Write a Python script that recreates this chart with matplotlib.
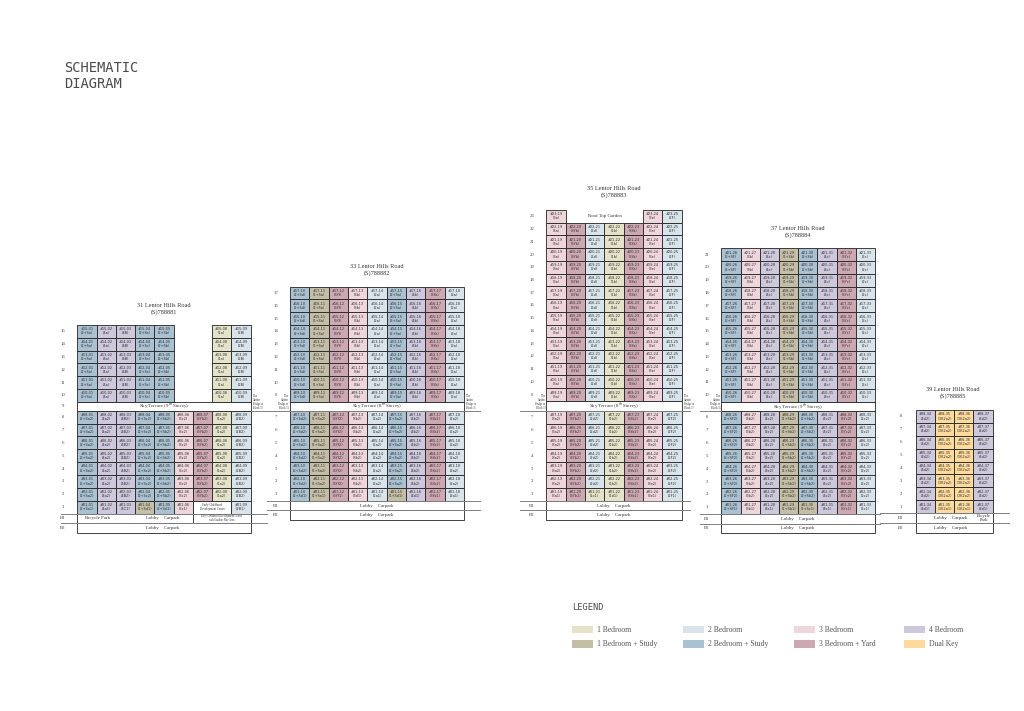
"""
schematic diagram of the units: 5 blocks on Lentor Hills Road
"""
import matplotlib
matplotlib.use('Agg')
import matplotlib.pyplot as plt

# ==================================================================== data:
unit_colors = {'1': '#e4e2c9', '1S': '#c4bea6', '2': '#d8e4ea', '2S': '#a9c1d1',
               '3': '#eed6dc', '3Y': '#cda8b3', '4': '#cdc8dc', 'DK': '#fedb9d'}

legend_labels = ['1 Bedroom', '1 Bedroom + Study', '2 Bedroom', '2 Bedroom + Study',
                 '3 Bedroom', '3 Bedroom + Yard', '4 Bedroom', 'Dual Key']
legend_types = ['1', '1S', '2', '2S', '3', '3Y', '4', 'DK']

# block 31
b31_stacks = ['01', '02', '03', '04', '05', '06', '07', '08', '09']
b31_upper = ['2S', '4', '4', '2S', '2S', None, None, '1', '2']
b31_lower = ['2S', '4', '4', '2S', '2S', '3', '3Y', '1', '2']
b31_ground = ['2S', '4', '4', '1S', '2S', '3', None, None, '2']
b31_upper_code = ['2+Sa', '4a', '4B', '2+Sc', '2+Sb', '', '', '1a', '2B']
b31_lower_code = ['2+Sa2', '4a2', '4B2', '2+Sc2', '2+Sb2', '3c2', '3Yb2', '1a2', '2B2']
b31_ground_code = ['2+Sa1', '4a1', '4C1', '1+Sd1', '2+Sd1', '3c1', '', '', '2B1']
b31_floors_upper = [15, 14, 13, 12, 11, 10]
b31_floors_lower = [8, 7, 6, 5, 4, 3, 2]

# block 33
b33_stacks = ['10', '11', '12', '13', '14', '15', '16', '17', '18']
b33_upper = ['2S', '1S', '3Y', '3', '2', '2S', '4', '3Y', '2']
b33_lower = ['2S', '1S', '3Y', '3', '2', '2S', '4', '3Y', '2']
b33_ground = ['2S', '1S', '3Y', '3', '2', '1S', '4', '3Y', '2']
b33_upper_code = ['2+Sd', '1+Sa', '3Yf', '3b', '2a', '2+Sa', '4b', '3Ya', '2a']
b33_lower_code = ['2+Sd2', '1+Sa2', '3Yf2', '3b2', '2a2', '2+Sa2', '4b2', '3Ya2', '2a2']
b33_ground_code = ['2+Sd1', '1+Sa1', '3Yf1', '3d1', '2a1', '1+Sd1', '4d1', '3Ya1', '2a1']
b33_floors_upper = [17, 16, 15, 14, 13, 12, 11, 10, 9]
b33_floors_lower = [7, 6, 5, 4, 3, 2]

# block 35
b35_stacks = ['19', '20', '21', '22', '23', '24', '25']
b35_top = ['3', None, None, None, None, '3', '2']
b35_upper = ['3', '3Y', '2', '1', '3Y', '3', '2']
b35_lower = ['3', '3Y', '2', '1', '3Y', '3', '2']
b35_ground = ['3', '3Y', '1', '1', '3Y', '3', '2']
b35_upper_code = ['3a', '3Yb', '2d', '1b', '3Ya', '3e', '2F']
b35_lower_code = ['3a2', '3Yb2', '2d2', '1b2', '3Ya2', '3e2', '2F2']
b35_ground_code = ['3a1', '3Yb1', '1c1', '1d1', '3Ya1', '3e1', '2F1']
b35_floors_upper = [22, 21, 20, 19, 18, 17, 16, 15, 14, 13, 12, 11, 10, 9]
b35_floors_lower = [7, 6, 5, 4, 3, 2]

# block 37
b37_stacks = ['26', '27', '28', '29', '30', '31', '32', '33']
b37_upper = ['2S', '3', '4', '1S', '2S', '4', '3Y', '2']
b37_lower = ['2S', '3', '4', '1S', '2S', '4', '3Y', '2']
b37_ground = ['2S', '3', '4', '1S', '1S', '4', '3Y', '2']
b37_upper_code = ['2+SF', '3b', '4c', '1+Sb', '2+Sb', '4c', '3Yc', '2c']
b37_lower_code = ['2+SF2', '3b2', '4c2', '1+Sb2', '2+Sb2', '4c2', '3Yc2', '2c2']
b37_ground_code = ['2+SF1', '3b1', '4c1', '1+Sb1', '1+Sc1', '4c1', '3Yc1', '2c1']
b37_floors_upper = [21, 20, 19, 18, 17, 16, 15, 14, 13, 12, 11, 10]
b37_floors_lower = [8, 7, 6, 5, 4, 3, 2]

# block 39
b39_stacks = ['34', '35', '36', '37']
b39_lower = ['4', 'DK', 'DK', '4']
b39_lower_code = ['4d2', 'DK2a2', 'DK2a2', '4d2']
b39_ground_code = ['4d1', 'DK2a1', 'DK2a1', '4d1']
b39_floors_lower = [8, 7, 6, 5, 4, 3, 2]

# ==================================================================== plot:
SERIF = 'Liberation Serif'
SANS = 'DejaVu Sans'
EDGE = '#222222'
GREY = '#808080'
LOBBY = 3.5

fig = plt.figure(figsize=(10.24, 7.11), dpi=100, facecolor='white')
ax = fig.add_axes([0, 0, 1, 1])
ax.set_xlim(0, 1024)
ax.set_ylim(711, 0)
ax.axis('off')


def draw_row(x0, col_w, top, h, floor, stacks, types, codes, label_x, label=True):
    # one storey of a block, empty cells are None
    for i, (stack, kind, code) in enumerate(zip(stacks, types, codes)):
        if kind is None:
            continue
        ax.bar(x0 + i * col_w, h, width=col_w, bottom=top, align='edge',
               color=unit_colors[kind], edgecolor=EDGE, linewidth=0.6)
        ax.text(x0 + (i + 0.5) * col_w, top + h / 2, f'#{floor:02d}-{stack}\n({code})',
                ha='center', va='center', fontsize=2.5, family=SANS,
                color='#2f2f2f', linespacing=1.05)
    if label:
        ax.text(label_x, top + h / 2, str(floor), ha='center', va='center',
                fontsize=3.4, family=SERIF, color='#444444')


def draw_box(x0, x1, top, bottom, text, text_x=None, size=LOBBY):
    ax.bar(x0, bottom - top, width=x1 - x0, bottom=top, align='edge',
           color='white', edgecolor=EDGE, linewidth=0.6)
    if text:
        ax.text((x0 + x1) / 2 if text_x is None else text_x, (top + bottom) / 2, text,
                ha='center', va='center', fontsize=size, family=SERIF, color='#333333')


def draw_title(x, y, text):
    ax.text(x, y, text, ha='center', va='center', fontsize=4.5, family=SERIF,
            color='#333333', linespacing=1.15)


def draw_lines(y, x0, x1):
    ax.plot([x0, x1], [y, y], color=GREY, linewidth=0.7, zorder=1)


def draw_bridge(x, y, text, ha):
    ax.text(x, y, text, ha=ha, va='center', fontsize=1.9, family=SERIF,
            color='#333333', linespacing=1.1)


def draw_floor_label(x, y, text):
    ax.text(x, y, text, ha='center', va='center', fontsize=3.4, family=SERIF, color='#444444')


def draw_block(x0, col_w, top, h_up, sky_top, sky_bottom, h_low, stacks, floors_up, upper,
               up_code, floors_low, lower, low_code, ground, ground_code, label_x):
    y = top
    for f in floors_up:
        draw_row(x0, col_w, y, h_up, f, stacks, upper, up_code, label_x)
        y += h_up
    y = sky_bottom
    for f in floors_low:
        draw_row(x0, col_w, y, h_low, f, stacks, lower, low_code, label_x)
        y += h_low
    draw_row(x0, col_w, y, h_low, 1, stacks, ground, ground_code, label_x)
    return y + h_low


# ---------------------------------------------------------- title and legend
ax.text(64, 68, 'SCHEMATIC', fontsize=9.9, family='DejaVu Sans Mono', color='#4a4a4a', va='center')
ax.text(64, 84, 'DIAGRAM', fontsize=9.9, family='DejaVu Sans Mono', color='#4a4a4a', va='center')
ax.text(572, 608, 'LEGEND', fontsize=6.3, family='DejaVu Sans Mono', color='#4a4a4a', va='center')

for i, (name, kind) in enumerate(zip(legend_labels, legend_types)):
    lx = [572, 683.3, 794.3, 904][i // 2]
    ly = 625.7 + (i % 2) * 14.7
    ax.bar(lx, 7.6, width=20.5, bottom=ly, align='edge', color=unit_colors[kind], linewidth=0)
    ax.text(lx + 25, ly + 3.8, name, fontsize=5.5, family=SERIF, color='#555555', va='center')

# ---------------------------------------------------------- block 31
x0, w = 77.3, 19.26
bottom = draw_block(x0, w, 325, 12.78, 401.7, 410.7, 12.86, b31_stacks, b31_floors_upper, b31_upper,
                    b31_upper_code, b31_floors_lower, b31_lower, b31_lower_code,
                    b31_ground, b31_ground_code, 63)
draw_title(164, 309, '31 Lentor Hills Road\n(S)788881')
draw_box(x0, x0 + 9 * w, 401.7, 410.7, 'Sky Terrace (9$^{th}$ Storey)')
draw_floor_label(63, 406.2, '9')
draw_box(x0 + 6 * w, x0 + 8 * w, bottom - 12.86, bottom, 'Early Childhood\nDevelopment Centre', size=2.2)
draw_box(x0, x0 + 9 * w, bottom, bottom + 9, '')
ax.text(97, bottom + 4.5, 'Bicycle Park', ha='center', va='center', fontsize=LOBBY, family=SERIF, color='#333333')
ax.text(163, bottom + 4.5, 'Lobby    Carpark', ha='center', va='center', fontsize=LOBBY, family=SERIF, color='#333333')
draw_box(x0 + 6 * w, x0 + 9 * w, bottom, bottom + 9,
         'Early Childhood Development Centre\nwith Outdoor Play Area', size=1.9)
draw_box(x0, x0 + 9 * w, bottom + 9, bottom + 19, 'Lobby    Carpark', text_x=163)
draw_floor_label(63, bottom + 4.5, 'B1')
draw_floor_label(63, bottom + 14, 'B2')
draw_lines(bottom, 61, 267)
draw_lines(bottom + 9, 61, 267)
draw_lines(410.7, x0 + 9 * w, 267)
draw_bridge(252.7, 402, 'The\nGarden\nBridge to\nBlock 33', 'left')

# ---------------------------------------------------------- block 33
x0, w = 290, 19.33
bottom = draw_block(x0, w, 286.7, 12.78, 401.7, 410.7, 12.86, b33_stacks, b33_floors_upper, b33_upper,
                    b33_upper_code, b33_floors_lower, b33_lower, b33_lower_code,
                    b33_ground, b33_ground_code, 276)
draw_title(377, 270, '33 Lentor Hills Road\n(S)788882')
draw_box(x0, x0 + 9 * w, 401.7, 410.7, 'Sky Terrace (8$^{th}$ Storey)')
draw_box(x0, x0 + 9 * w, bottom, bottom + 9.6, 'Lobby    Carpark')
draw_box(x0, x0 + 9 * w, bottom + 9.6, bottom + 19.3, 'Lobby    Carpark')
draw_floor_label(276, bottom + 4.8, 'B1')
draw_floor_label(276, bottom + 14.4, 'B2')
draw_lines(bottom, 267, 480)
draw_lines(bottom + 9.6, 267, 480)
draw_lines(410.7, 267, 480)
draw_bridge(288.5, 402, 'The\nGarden\nBridge to\nBlock 31', 'right')
draw_bridge(466, 402, 'The\nGarden\nBridge to\nBlock 35', 'left')

# ---------------------------------------------------------- block 35
x0, w = 546.3, 19.34
draw_row(x0, w, 210, 12.73, 23, b35_stacks, b35_top, ['3a', '', '', '', '', '3e', '2F'], 532)
ax.text(x0 + 3.5 * w - 9, 216.4, 'Roof Top Garden', ha='center', va='center', fontsize=LOBBY,
        family=SERIF, color='#333333')
bottom = draw_block(x0, w, 222.73, 12.73, 401, 410.7, 12.86, b35_stacks, b35_floors_upper, b35_upper,
                    b35_upper_code, b35_floors_lower, b35_lower, b35_lower_code,
                    b35_ground, b35_ground_code, 532)
draw_title(614, 192, '35 Lentor Hills Road\n(S)788883')
draw_box(x0, x0 + 7 * w, 401, 410.7, 'Sky Terrace (8$^{th}$ Storey)')
draw_box(x0, x0 + 7 * w, bottom, bottom + 9.6, 'Lobby    Carpark')
draw_box(x0, x0 + 7 * w, bottom + 9.6, bottom + 19, 'Lobby    Carpark')
draw_floor_label(532, bottom + 4.8, 'B1')
draw_floor_label(532, bottom + 14.4, 'B2')
draw_lines(bottom, 520, 690)
draw_lines(bottom + 9.6, 520, 690)
draw_lines(410.7, 520, 690)
draw_bridge(545.5, 402, 'The\nGarden\nBridge to\nBlock 33', 'right')
draw_bridge(684, 402, 'The\nGarden\nBridge to\nBlock 37', 'left')

# ---------------------------------------------------------- block 37
x0, w = 721.3, 19.22
bottom = draw_block(x0, w, 248.3, 12.78, 401.7, 411, 12.82, b37_stacks, b37_floors_upper, b37_upper,
                    b37_upper_code, b37_floors_lower, b37_lower, b37_lower_code,
                    b37_ground, b37_ground_code, 707)
draw_title(798, 232, '37 Lentor Hills Road\n(S)788884')
draw_box(x0, x0 + 8 * w, 401.7, 411, 'Sky Terrace (9$^{th}$ Storey)')
draw_box(x0, x0 + 8 * w, bottom, bottom + 10, 'Lobby    Carpark')
draw_box(x0, x0 + 8 * w, bottom + 10, bottom + 19.7, 'Lobby    Carpark')
draw_floor_label(707, bottom + 5, 'B1')
draw_floor_label(707, bottom + 14.8, 'B2')
draw_lines(bottom, 700, 880)
draw_lines(bottom + 10, 700, 880)
draw_lines(411, 700, x0)
draw_bridge(720.5, 402, 'The\nGarden\nBridge to\nBlock 35', 'right')

# ---------------------------------------------------------- block 39
x0, w = 915.7, 19.25
y = 410
for f in b39_floors_lower:
    draw_row(x0, w, y, 12.88, f, b39_stacks, b39_lower, b39_lower_code, 901)
    y += 12.88
draw_row(x0, w, y, 12.88, 1, b39_stacks, b39_lower, b39_ground_code, 901)
bottom = y + 12.88
draw_title(953, 393, '39 Lentor Hills Road\n(S)788885')
draw_box(x0, x0 + 4 * w, bottom, bottom + 9.7, 'Lobby    Carpark', text_x=951)
draw_box(x0, x0 + 4 * w, bottom + 9.7, bottom + 19.7, 'Lobby    Carpark', text_x=951)
ax.text(x0 + 3.5 * w + 1, bottom + 4.8, 'Bicycle\nPark', ha='center', va='center', fontsize=3.3,
        family=SERIF, color='#333333', linespacing=0.9)
draw_floor_label(901, bottom + 4.8, 'B1')
draw_floor_label(901, bottom + 14.6, 'B2')
draw_lines(bottom, 880, 1009)
draw_lines(bottom + 9.7, 880, 1009)

ax.set_xlim(0, 1024)
ax.set_ylim(711, 0)
plt.savefig('out.png', dpi=100, facecolor='white')
